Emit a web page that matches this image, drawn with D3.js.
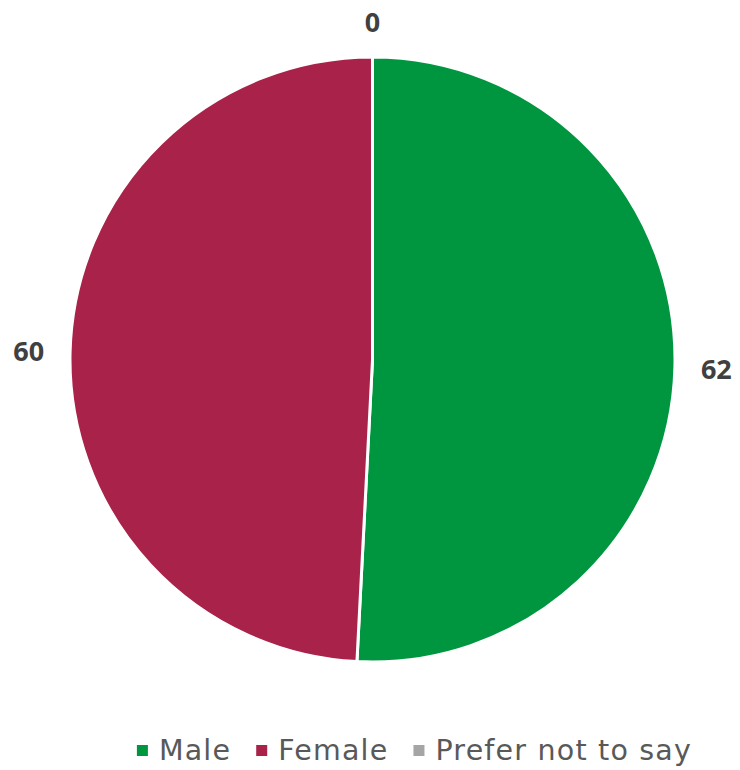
<!DOCTYPE html>
<html>
<head>
<meta charset="utf-8">
<script src="https://cdn.jsdelivr.net/npm/d3@7"></script>
<style>
  body { margin: 0; background: #fff; }
  text { font-family: "Noto Sans", "Lato", sans-serif; fill: #404040; }
</style>
</head>
<body>
<svg id="chart" width="740" height="770"></svg>
<script>
const categories = ['Male', 'Female', 'Prefer not to say'];
const values = [62, 60, 0];
const colors = ['#009640', '#A8224A', '#A5A5A5'];

const svg = d3.select('#chart');
const cx = 372.5, cy = 359.5, radius = 302.5;
const labelGap = 26;

const pie = d3.pie().sort(null).value((d) => d);
const arcs = pie(values);
const arc = d3.arc().innerRadius(0).outerRadius(radius);

const g = svg.append('g').attr('transform', `translate(${cx},${cy})`);

g.selectAll('.slice')
  .data(arcs)
  .join('path')
  .attr('class', 'slice')
  .attr('d', arc)
  .attr('fill', (d, i) => colors[i])
  .attr('stroke', '#fff')
  .attr('stroke-width', 3);

// outside-end labels: box sits labelGap px beyond the rim
const labels = g.selectAll('.label')
  .data(arcs)
  .join('text')
  .attr('class', 'label')
  .attr('text-anchor', 'middle')
  .attr('dominant-baseline', 'central')
  .style('font-family', '"Noto Sans", sans-serif')
  .style('font-size', '27px')
  .style('font-weight', 700)
  .text((d) => d.value);

labels.attr('transform', function (d) {
  const a = (d.startAngle + d.endAngle) / 2;
  const w = this.getComputedTextLength();
  const h = 20;
  const r = radius + labelGap;
  const x = r * Math.sin(a) + (w / 2) * Math.sin(a);
  const y = -r * Math.cos(a) - (h / 2) * Math.cos(a);
  return `translate(${x},${y})`;
});

// legend
const legend = svg.append('g').attr('transform', 'translate(0,750)');
const items = legend.selectAll('.item')
  .data(categories)
  .join('g')
  .attr('class', 'item');

items.append('rect')
  .attr('x', 0)
  .attr('y', -5)
  .attr('width', 11)
  .attr('height', 11)
  .attr('fill', (d, i) => colors[i]);

items.append('text')
  .attr('x', 22)
  .attr('dominant-baseline', 'central')
  .style('font-family', '"DejaVu Sans", sans-serif')
  .style('font-size', '28.5px')
  .style('letter-spacing', '1.2px')
  .style('fill', '#595959')
  .text((d) => d);

const widths = [];
items.each(function () {
  widths.push(this.querySelector('text').getComputedTextLength() + 22);
});
const gap = 25;
const total = d3.sum(widths) + gap * (widths.length - 1);
let x = 414.5 - total / 2;
items.attr('transform', (d, i) => {
  const t = `translate(${x},0)`;
  x += widths[i] + gap;
  return t;
});
</script>
</body>
</html>
